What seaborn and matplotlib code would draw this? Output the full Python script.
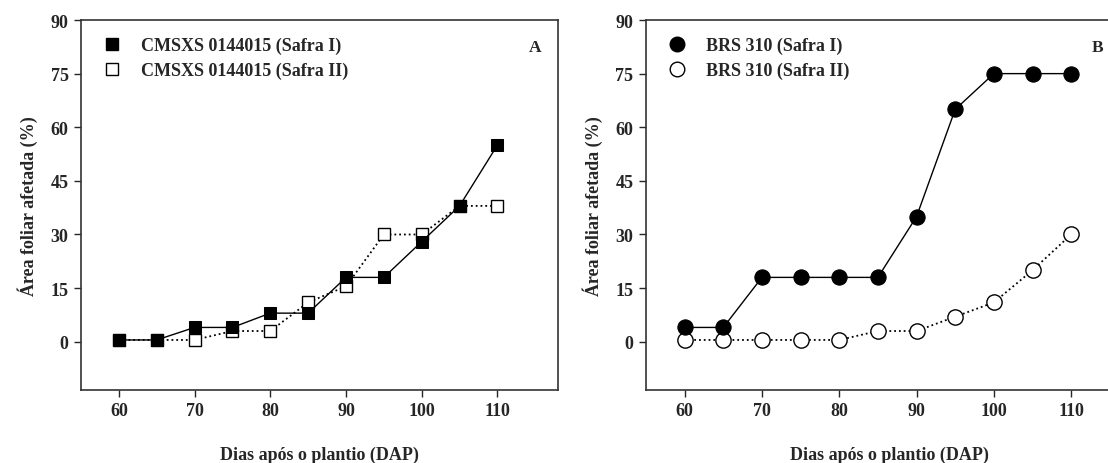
import pandas as pd
import seaborn as sns
import matplotlib.pyplot as plt
from matplotlib.lines import Line2D

dias = [60, 65, 70, 75, 80, 85, 90, 95, 100, 105, 110]
cmsxs_safra1 = [0.5, 0.5, 4, 4, 8, 8, 18, 18, 28, 38, 55]
cmsxs_safra2 = [0.5, 0.5, 0.5, 3, 3, 11, 15.5, 30, 30, 38, 38]
brs_safra1 = [4, 4, 18, 18, 18, 18, 35, 65, 75, 75, 75]
brs_safra2 = [0.5, 0.5, 0.5, 0.5, 0.5, 3, 3, 7, 11, 20, 30]
y_ticks = [0, 15, 30, 45, 60, 75, 90]
x_ticks = [60, 70, 80, 90, 100, 110]

sns.set_style('ticks')
plt.rcParams['font.family'] = ['Liberation Serif', 'DejaVu Serif']
plt.rcParams['font.weight'] = 'bold'

fig = plt.figure(figsize=(11.08, 4.64), dpi=100)
ax_a = fig.add_axes([81 / 1108, 1 - 391 / 464, 477 / 1108, 370 / 464])
ax_b = fig.add_axes([646 / 1108, 1 - 391 / 464, 487 / 1108, 370 / 464])

panels = [
    (ax_a, 's', 8.5, cmsxs_safra1, cmsxs_safra2,
     'CMSXS 0144015 (Safra I)', 'CMSXS 0144015 (Safra II)', 'A', 0.965, 'right'),
    (ax_b, 'o', 11, brs_safra1, brs_safra2,
     'BRS 310 (Safra I)', 'BRS 310 (Safra II)', 'B', 0.916, 'left'),
]

for ax, mk, ms, s1, s2, lab1, lab2, letra, lx, lha in panels:
    df = pd.DataFrame({'dias': dias, 's1': s1, 's2': s2})
    sns.lineplot(data=df, x='dias', y='s2', ax=ax, color='black', lw=1.3,
                 linestyle=':', marker=mk, markersize=ms,
                 markerfacecolor='white', markeredgecolor='black',
                 markeredgewidth=1.0, zorder=2)
    sns.lineplot(data=df, x='dias', y='s1', ax=ax, color='black', lw=1.0,
                 marker=mk, markersize=ms, markerfacecolor='black',
                 markeredgecolor='black', zorder=3)
    ax.set_xlim(55, 118)
    ax.set_ylim(-13.5, 90)
    ax.set_xticks(x_ticks)
    ax.set_yticks(y_ticks)
    ax.tick_params(labelsize=13, length=5, width=1, direction='out', pad=4)
    for lbl in ax.get_xticklabels() + ax.get_yticklabels():
        lbl.set_fontweight('bold')
    for sp in ax.spines.values():
        sp.set_visible(True)
        sp.set_linewidth(1.2)
        sp.set_color('#333333')
    ax.set_xlabel('Dias após o plantio (DAP)', fontsize=13, fontweight='bold',
                  labelpad=19)
    ax.set_ylabel('Área foliar afetada (%)', fontsize=13, fontweight='bold',
                  labelpad=9)
    handles = [
        Line2D([], [], ls='none', marker=mk, markersize=ms - 0.5,
               markerfacecolor='black', markeredgecolor='black'),
        Line2D([], [], ls='none', marker=mk, markersize=ms - 0.5,
               markerfacecolor='white', markeredgecolor='black'),
    ]
    ax.legend(handles, [lab1, lab2], loc='upper left', frameon=False,
              prop={'size': 13, 'weight': 'bold'}, handletextpad=0.9,
              labelspacing=0.42, borderaxespad=0.55, handlelength=1.5)
    ax.text(lx, 0.915, letra, transform=ax.transAxes, ha=lha,
            fontsize=12.5, fontweight='bold')

fig.savefig('out.png', dpi=100)
